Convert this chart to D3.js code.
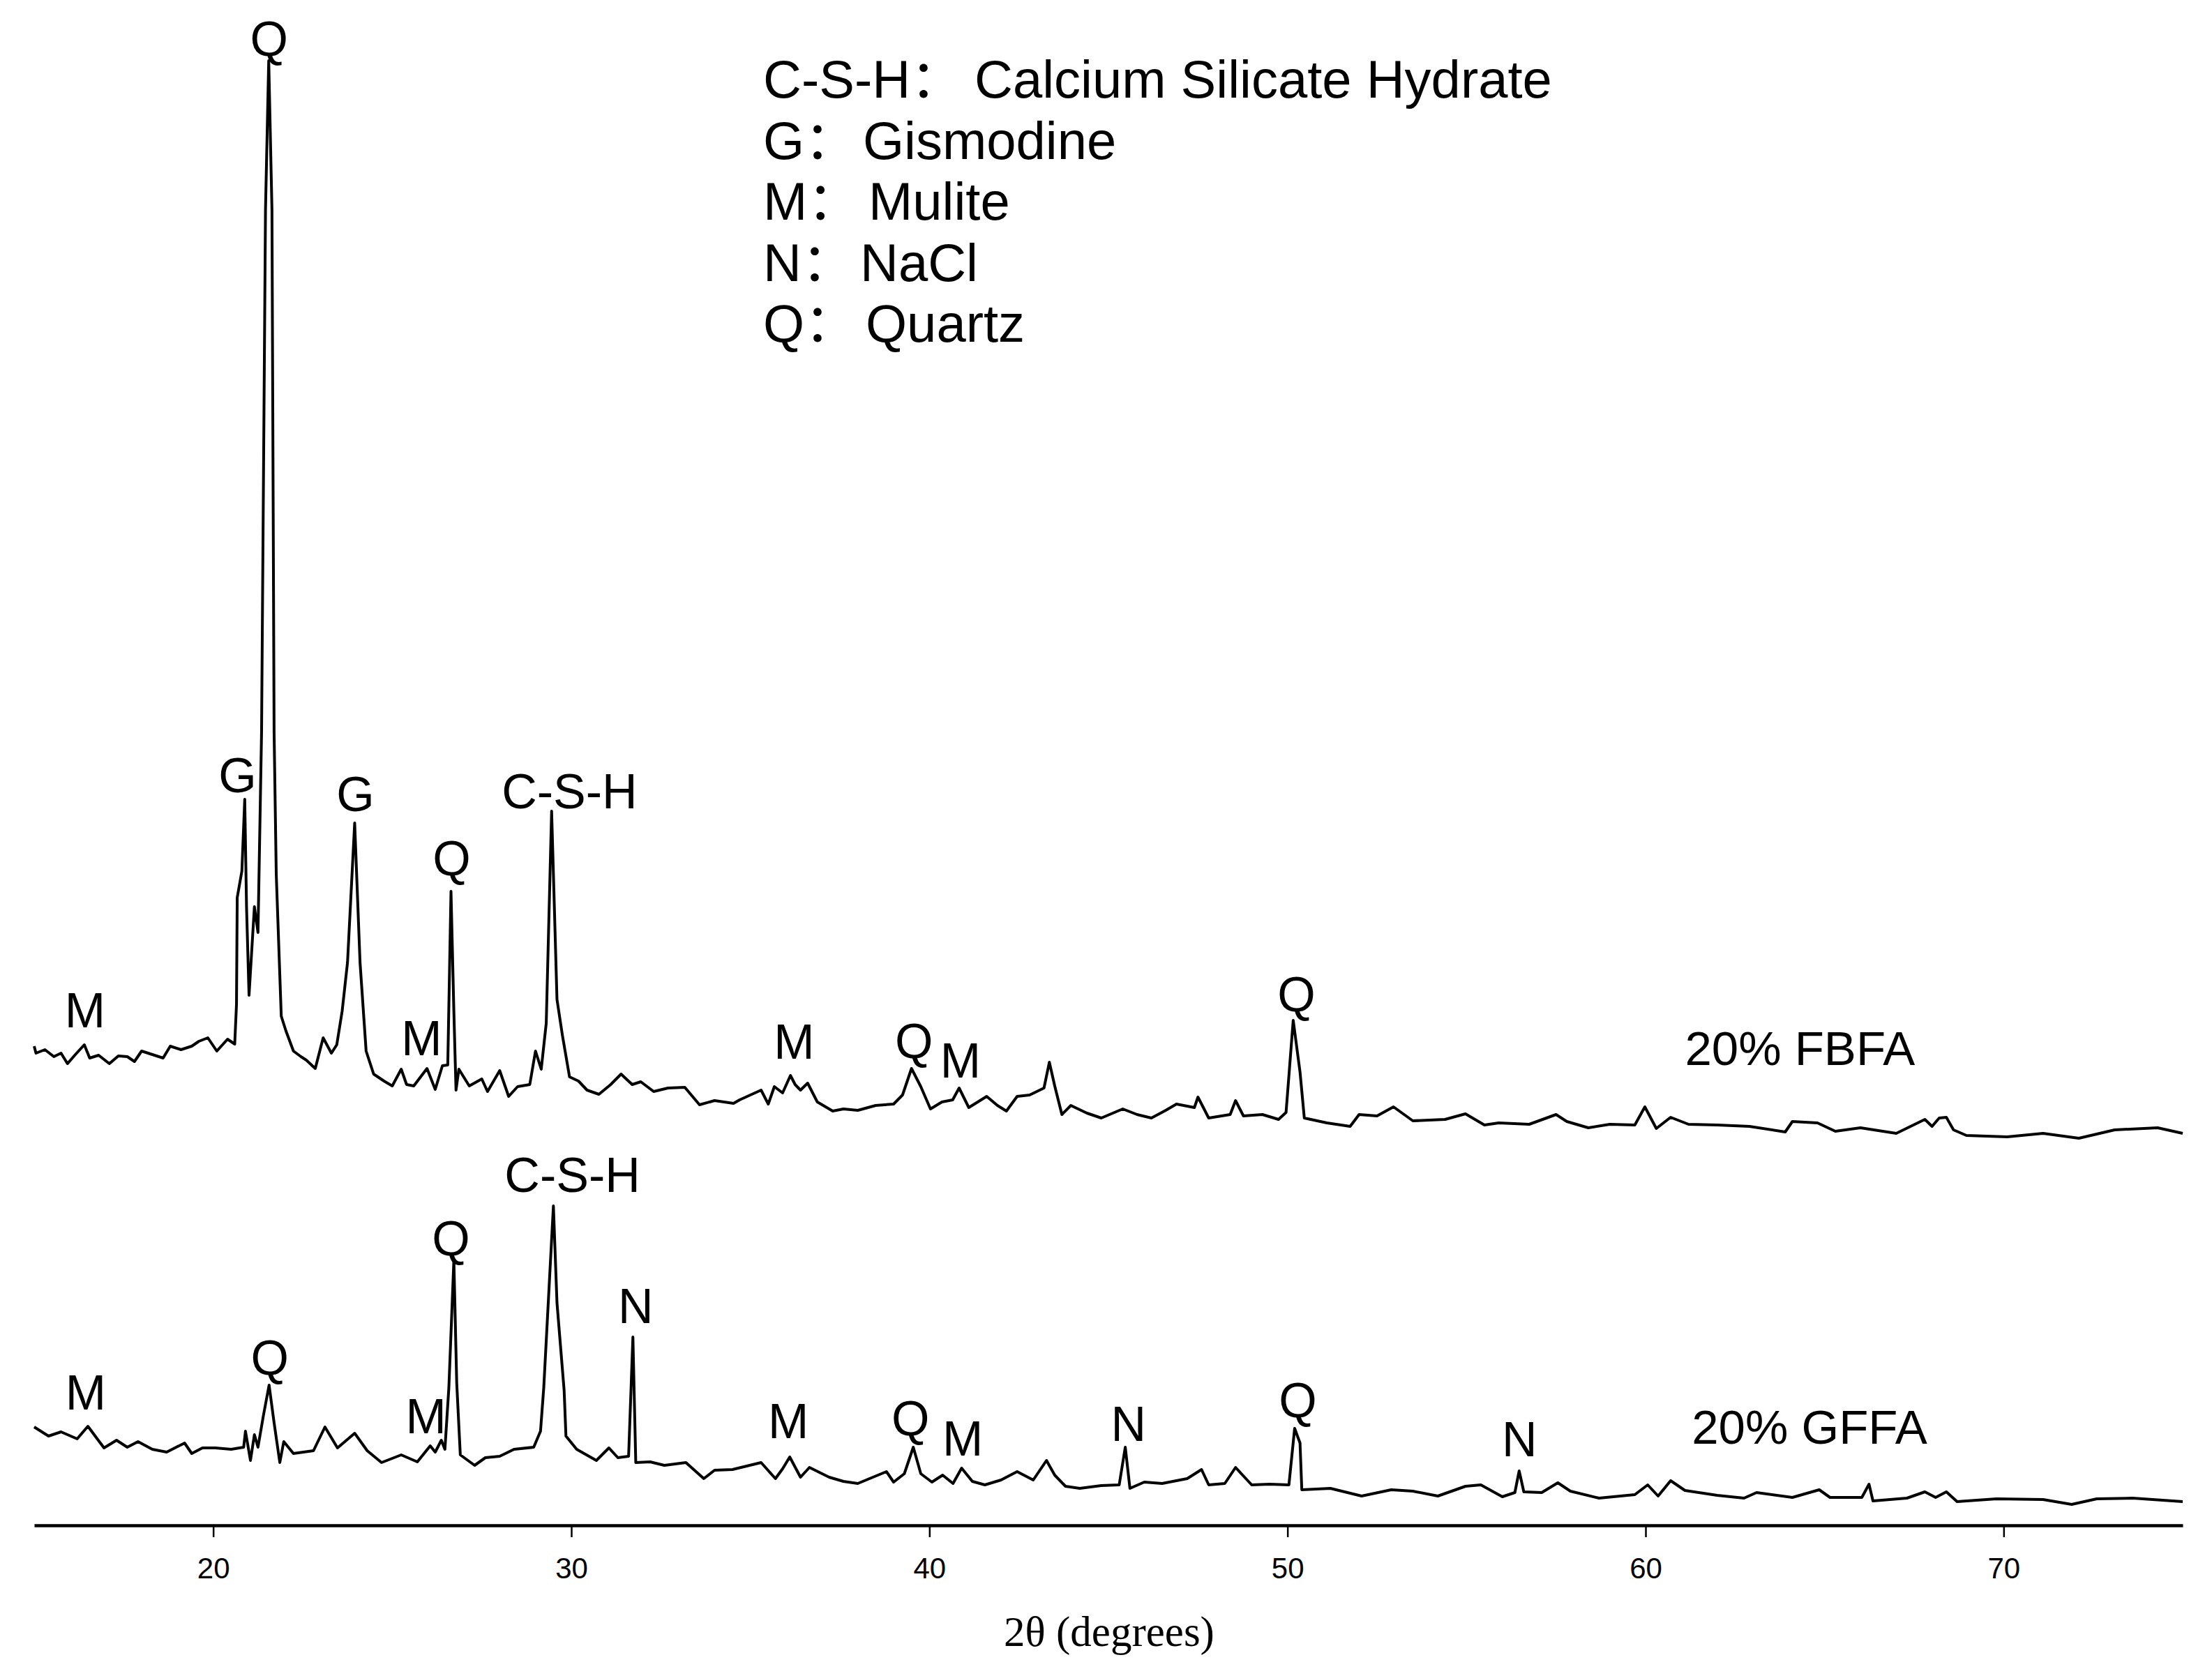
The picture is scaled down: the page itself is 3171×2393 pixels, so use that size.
<!DOCTYPE html>
<html>
<head>
<meta charset="utf-8">
<script src="https://cdn.jsdelivr.net/npm/d3@7"></script>
<style>
    body { margin: 0; background: #fff; }
    svg { display: block; }
    text { font-family: 'Liberation Sans', Arial, 'Noto Sans CJK SC', sans-serif; fill: #000; }
    .axis-title { font-family: 'Liberation Serif', 'Times New Roman', serif; }
</style>
</head>
<body>
<svg id="chart"></svg>
<script>
// 2θ (deg), intensity (a.u.)
const fbfaPattern = [
    [15.0, 187], [15.05, 177], [15.3, 182], [15.55, 172], [15.75, 177], [15.93, 162], [16.15, 175],
    [16.4, 189], [16.55, 170], [16.8, 174], [17.1, 162], [17.35, 173], [17.6, 172], [17.8, 165],
    [18.0, 180], [18.3, 175], [18.6, 170], [18.8, 187], [19.1, 182], [19.4, 187], [19.6, 194],
    [19.85, 199], [20.1, 180], [20.4, 197], [20.6, 190], [20.65, 247], [20.67, 400], [20.8, 438],
    [20.88, 541], [20.93, 387], [21.0, 260], [21.15, 387], [21.25, 350], [21.35, 637], [21.46, 1387],
    [21.55, 1600], [21.64, 1387], [21.7, 637], [21.76, 434], [21.9, 230], [22.03, 209], [22.24, 180],
    [22.45, 172], [22.6, 167], [22.85, 155], [23.07, 199], [23.3, 177], [23.45, 189], [23.6, 237],
    [23.75, 307], [23.95, 507], [24.1, 307], [24.27, 180], [24.48, 147], [24.77, 137], [25.0, 130],
    [25.25, 154], [25.4, 132], [25.6, 130], [25.97, 155], [26.2, 125], [26.4, 159], [26.55, 160],
    [26.64, 409], [26.72, 237], [26.78, 124], [26.86, 154], [27.15, 130], [27.5, 140], [27.66, 122],
    [28.0, 152], [28.25, 115], [28.5, 129], [28.84, 132], [29.0, 180], [29.16, 154], [29.3, 220],
    [29.45, 524], [29.6, 254], [29.75, 203], [29.95, 143], [30.2, 137], [30.44, 124], [30.77, 118],
    [31.1, 132], [31.39, 147], [31.7, 132], [31.94, 136], [32.3, 122], [32.7, 127], [33.17, 128],
    [33.58, 103], [34.0, 109], [34.53, 105], [34.7, 110], [35.3, 124], [35.5, 104], [35.67, 129],
    [35.9, 120], [36.12, 145], [36.25, 132], [36.4, 124], [36.6, 134], [36.87, 107], [37.3, 94],
    [37.6, 97], [38.0, 95], [38.5, 102], [39.0, 104], [39.25, 117], [39.5, 155], [39.76, 129],
    [40.03, 97], [40.35, 107], [40.65, 110], [40.83, 127], [41.1, 99], [41.6, 115], [41.9, 102],
    [42.15, 94], [42.45, 115], [42.8, 117], [43.2, 127], [43.35, 164], [43.5, 130], [43.7, 89],
    [43.95, 102], [44.4, 91], [44.8, 84], [45.4, 97], [45.8, 89], [46.2, 84], [46.6, 95],
    [46.9, 104], [47.4, 99], [47.5, 114], [47.8, 84], [48.4, 89], [48.55, 109], [48.77, 87],
    [49.3, 89], [49.75, 82], [49.96, 92], [50.16, 224], [50.35, 150], [50.47, 84], [51.1, 77],
    [51.75, 72], [52.0, 89], [52.5, 87], [52.96, 100], [53.5, 80], [54.4, 82], [54.97, 90],
    [55.5, 74], [55.9, 77], [56.75, 75], [57.5, 89], [57.8, 79], [58.4, 70], [59.0, 75],
    [59.7, 74], [59.98, 100], [60.3, 69], [60.7, 85], [61.2, 75], [62.0, 74], [62.9, 72],
    [63.9, 64], [64.1, 79], [64.8, 77], [65.3, 65], [66.0, 70], [67.0, 62], [67.4, 72],
    [67.8, 82], [68.0, 72], [68.2, 84], [68.4, 85], [68.6, 67], [68.96, 59], [70.1, 57],
    [71.1, 62], [72.1, 55], [73.1, 67], [74.3, 70], [75.0, 62]
]

const gffaPattern = [
    [15.0, 141], [15.4, 128], [15.75, 134], [16.2, 124], [16.5, 142], [16.95, 111], [17.3, 122],
    [17.6, 112], [17.9, 120], [18.3, 109], [18.7, 105], [19.2, 118], [19.4, 103], [19.7, 111],
    [20.06, 111], [20.5, 109], [20.85, 112], [20.9, 135], [21.04, 93], [21.15, 130], [21.25, 112],
    [21.4, 157], [21.56, 201], [21.7, 147], [21.86, 90], [21.97, 120], [22.24, 103], [22.8, 107],
    [23.12, 141], [23.47, 111], [23.95, 132], [24.3, 107], [24.7, 90], [25.25, 101], [25.7, 91],
    [26.06, 114], [26.2, 105], [26.37, 122], [26.47, 109], [26.58, 197], [26.72, 380], [26.8, 204],
    [26.9, 101], [27.3, 86], [27.6, 97], [28.0, 99], [28.4, 109], [28.95, 112], [29.14, 135],
    [29.23, 197], [29.5, 458], [29.6, 319], [29.8, 193], [29.85, 128], [30.15, 109], [30.7, 93],
    [31.05, 111], [31.3, 97], [31.6, 99], [31.72, 270], [31.8, 90], [32.2, 91], [32.6, 86],
    [33.2, 90], [33.7, 67], [34.0, 79], [34.5, 80], [35.3, 90], [35.7, 67], [35.9, 81],
    [36.1, 98], [36.4, 69], [36.65, 83], [37.2, 69], [37.6, 63], [38.0, 60], [38.8, 77],
    [39.0, 62], [39.3, 74], [39.55, 112], [39.76, 74], [40.07, 62], [40.37, 72], [40.66, 60],
    [40.9, 82], [41.2, 63], [41.55, 58], [42.0, 65], [42.45, 77], [42.9, 65], [43.27, 93],
    [43.5, 72], [43.8, 56], [44.2, 53], [44.8, 57], [45.3, 58], [45.47, 112], [45.6, 53],
    [46.0, 62], [46.5, 60], [47.2, 67], [47.6, 80], [47.8, 58], [48.25, 60], [48.55, 83],
    [49.0, 58], [49.5, 59], [50.04, 58], [50.2, 139], [50.35, 118], [50.4, 51], [51.2, 53],
    [52.07, 42], [52.9, 51], [53.5, 49], [54.2, 42], [54.97, 56], [55.4, 58], [56.0, 41],
    [56.35, 47], [56.47, 78], [56.6, 48], [57.1, 47], [57.55, 61], [57.9, 49], [58.7, 39],
    [59.7, 44], [60.06, 58], [60.35, 42], [60.7, 64], [61.1, 50], [62.0, 43], [62.75, 39],
    [63.1, 47], [64.1, 40], [64.85, 51], [65.15, 40], [66.04, 40], [66.24, 59], [66.35, 35],
    [67.3, 39], [67.8, 48], [68.1, 40], [68.4, 48], [68.7, 34], [69.8, 38], [71.1, 37],
    [71.9, 30], [72.6, 38], [73.6, 39], [75.0, 34]
]

// vertical shift used to stack the FBFA pattern above GFFA
const fbfaOffset = 500

// peak labels: [text, 2θ, intensity of the label baseline]
const fbfaPeaks = [
    ['Q', 21.56, 1607], ['G', 20.68, 551], ['G', 23.97, 524], ['Q', 26.66, 432],
    ['C-S-H', 29.95, 528], ['M', 16.42, 214], ['M', 25.82, 174], ['M', 36.22, 169],
    ['Q', 39.57, 170], ['M', 40.87, 142], ['Q', 50.25, 237]
]

const gffaPeaks = [
    ['M', 16.44, 166], ['Q', 21.58, 216], ['M', 25.94, 132], ['Q', 26.64, 387],
    ['C-S-H', 30.03, 478], ['N', 31.8, 290], ['M', 36.06, 125], ['Q', 39.47, 129],
    ['M', 40.93, 100], ['N', 45.56, 121], ['Q', 50.29, 155], ['N', 56.48, 99]
]

const sampleNames = ['20% FBFA', '20% GFFA']
const sampleLabelAt = [[61.1, 160], [61.29, 117]]

const phaseKeys = ['C-S-H：', 'G：', 'M：', 'N：', 'Q：']
const phaseNames = ['Calcium Silicate Hydrate', 'Gismodine', 'Mulite', 'NaCl', 'Quartz']

const xTicks = [20, 30, 40, 50, 60, 70]
const xDomain = [15, 75]
const yDomain = [0, 2100]

class XrdChart {

    constructor(_config) {
        this.config = {
            parentElement: _config.parentElement,
            containerWidth: _config.containerWidth || 3171,
            containerHeight: _config.containerHeight || 2393,
            margin: { top: 87, right: 40, bottom: 206, left: 49 }
        }

        this.initVis()
    }

    initVis() {
        let vis = this

        vis.width = vis.config.containerWidth - vis.config.margin.left - vis.config.margin.right
        vis.height = vis.config.containerHeight - vis.config.margin.top - vis.config.margin.bottom

        vis.svg = d3.select(vis.config.parentElement)
            .attr('width', vis.config.containerWidth)
            .attr('height', vis.config.containerHeight)

        vis.svg.append('rect')
            .attr('width', vis.config.containerWidth)
            .attr('height', vis.config.containerHeight)
            .attr('fill', '#fff')

        vis.chart = vis.svg.append('g')
            .attr('transform', `translate(${vis.config.margin.left}, ${vis.config.margin.top})`)

        vis.xScale = d3.scaleLinear()
            .domain(xDomain)
            .range([0, vis.width - 2])

        vis.yScale = d3.scaleLinear()
            .domain(yDomain)
            .range([vis.height, 0])

        vis.xAxis = d3.axisBottom(vis.xScale)
            .tickValues(xTicks)
            .tickSizeInner(17)
            .tickSizeOuter(0)
            .tickPadding(29)

        vis.xAxisGroup = vis.chart.append('g')
            .attr('class', 'axis x-axis')
            .attr('transform', `translate(0, ${vis.height})`)

        vis.line = d3.line()
            .x(d => vis.xScale(d[0]))
            .y(d => vis.yScale(d[1]))

        vis.renderVis()
    }

    renderVis() {
        let vis = this

        vis.xAxisGroup.call(vis.xAxis)
        vis.xAxisGroup.select('.domain')
            .attr('stroke', '#000')
            .attr('stroke-width', 4.5)
        vis.xAxisGroup.selectAll('.tick line')
            .attr('stroke', '#000')
            .attr('stroke-width', 2.5)
        vis.xAxisGroup.selectAll('.tick text')
            .attr('font-size', 42)
            .attr('font-family', "'Liberation Sans', Arial, sans-serif")
            .attr('fill', '#000')

        vis.chart.append('text')
            .attr('class', 'axis-title')
            .attr('x', vis.width / 2)
            .attr('y', vis.height + 173)
            .attr('text-anchor', 'middle')
            .attr('font-size', 61)
            .text('2θ (degrees)')

        const series = [
            { pattern: gffaPattern, offset: 0, peaks: gffaPeaks },
            { pattern: fbfaPattern, offset: fbfaOffset, peaks: fbfaPeaks }
        ]

        vis.chart.selectAll('.pattern')
            .data(series)
            .join('path')
                .attr('class', 'pattern')
                .attr('fill', 'none')
                .attr('stroke', '#000')
                .attr('stroke-width', 4)
                .attr('stroke-linejoin', 'round')
                .attr('d', s => vis.line(s.pattern.map(d => [d[0], d[1] + s.offset])))

        const peakLabels = series.flatMap(s => s.peaks.map(p => ({ text: p[0], x: p[1], y: p[2] + s.offset })))

        vis.chart.selectAll('.peak-label')
            .data(peakLabels)
            .join('text')
                .attr('class', 'peak-label')
                .attr('x', d => vis.xScale(d.x))
                .attr('y', d => vis.yScale(d.y))
                .attr('text-anchor', 'middle')
                .attr('font-size', 70)
                .text(d => d.text)

        vis.chart.selectAll('.sample-label')
            .data(sampleNames)
            .join('text')
                .attr('class', 'sample-label')
                .attr('x', (d, i) => vis.xScale(sampleLabelAt[i][0]))
                .attr('y', (d, i) => vis.yScale(sampleLabelAt[i][1] + (i === 0 ? fbfaOffset : 0)))
                .attr('font-size', 69)
                .text(d => d)

        // phase key, top centre
        const keyX = 1094 - vis.config.margin.left
        const nameX = [1397, 1237, 1245, 1233, 1241].map(x => x - vis.config.margin.left)
        const keyRows = vis.chart.selectAll('.key-row')
            .data(phaseKeys)
            .join('g')
                .attr('class', 'key-row')
                .attr('transform', (d, i) => `translate(0, ${140 + i * 87.5 - vis.config.margin.top})`)

        keyRows.append('text')
            .attr('x', keyX)
            .attr('font-size', 76)
            .text(d => d)

        keyRows.append('text')
            .attr('x', (d, i) => nameX[i])
            .attr('font-size', 76)
            .text((d, i) => phaseNames[i])
    }
}

new XrdChart({ parentElement: '#chart', containerWidth: 3171, containerHeight: 2393 })
</script>
</body>
</html>
